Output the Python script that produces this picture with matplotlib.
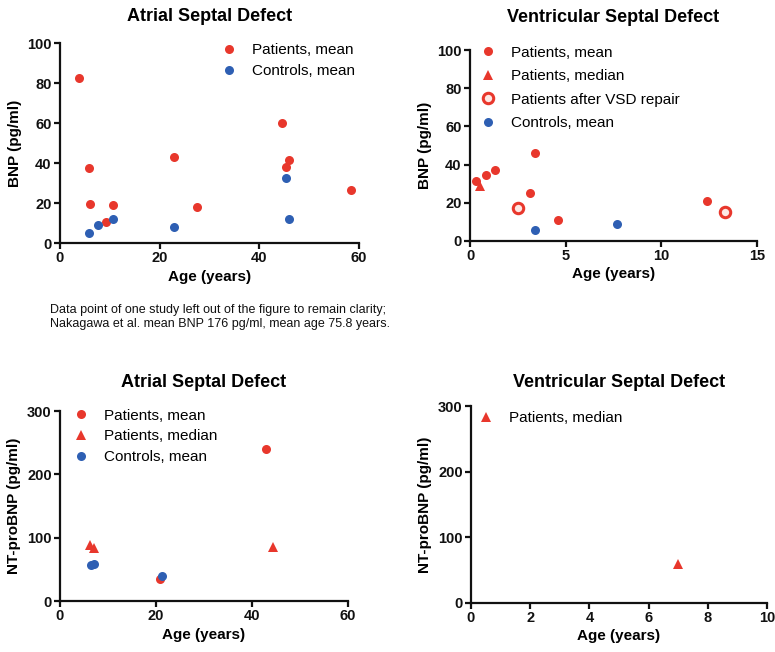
import matplotlib
matplotlib.use("Agg")
import matplotlib.pyplot as plt

plt.rcParams['font.family'] = ['Liberation Sans', 'DejaVu Sans']

RED = '#e8372c'
BLUE = '#2e5fb3'

# ASD, BNP
asd_bnp_pat_age = [3.9, 5.8, 5.95, 9.2, 10.7, 22.9, 27.5, 44.6, 45.4, 46.0, 58.3]
asd_bnp_pat_val = [82.6, 37.3, 19.6, 10.7, 18.9, 42.8, 17.9, 60.2, 37.8, 41.6, 26.4]
asd_bnp_ctl_age = [5.8, 7.7, 10.7, 22.9, 45.4, 46.0]
asd_bnp_ctl_val = [5.2, 8.9, 11.9, 8.2, 32.4, 11.9]

# VSD, BNP
vsd_bnp_pat_age = [0.31, 0.84, 1.32, 3.4, 3.12, 4.6, 12.4]
vsd_bnp_pat_val = [31.3, 34.6, 37.2, 46.2, 25.2, 11.2, 20.8]
vsd_bnp_med_age = [0.52]
vsd_bnp_med_val = [29.0]
vsd_bnp_rep_age = [2.5, 13.35]
vsd_bnp_rep_val = [17.1, 15.0]
vsd_bnp_ctl_age = [3.4, 7.68]
vsd_bnp_ctl_val = [5.6, 9.1]

# ASD, NT-proBNP
asd_nt_pat_age = [42.9, 20.8]
asd_nt_pat_val = [239.6, 34.6]
asd_nt_med_age = [6.3, 7.0, 44.3]
asd_nt_med_val = [89, 84, 86]
asd_nt_ctl_age = [6.4, 7.0, 21.2]
asd_nt_ctl_val = [56.6, 58.7, 39.8]

# VSD, NT-proBNP
vsd_nt_med_age = [7.0]
vsd_nt_med_val = [60]

fig = plt.figure(figsize=(7.75, 6.52), dpi=100)

ax1 = fig.add_axes([0.0774, 0.6273, 0.3858, 0.3067])
ax2 = fig.add_axes([0.6065, 0.6304, 0.3703, 0.2929])
ax3 = fig.add_axes([0.0774, 0.0782, 0.3716, 0.2914])
ax4 = fig.add_axes([0.6077, 0.0752, 0.3820, 0.3021])

MS = 6.5


def style(ax, xmax, xticks, ymax, yticks, ylabel, title, tpad):
    ax.set_xlim(0, xmax)
    ax.set_ylim(0, ymax)
    ax.set_xticks(xticks)
    ax.set_yticks(yticks)
    for s in ('top', 'right'):
        ax.spines[s].set_visible(False)
    for s in ('left', 'bottom'):
        ax.spines[s].set_linewidth(1.6)
        ax.spines[s].set_color('#111111')
    ax.tick_params(direction='out', length=4, width=1.6, labelsize=10.5,
                   colors='#111111', pad=2)
    for lab in ax.get_xticklabels() + ax.get_yticklabels():
        lab.set_fontweight('bold')
    ax.set_xlabel('Age (years)', fontsize=11, fontweight='bold', labelpad=3)
    ax.set_ylabel(ylabel, fontsize=11, fontweight='bold', labelpad=4)
    ax.set_title(title, fontsize=13, fontweight='bold', pad=tpad)


def pts(ax, x, y, marker, color, label, filled=True, ms=MS):
    if filled:
        ax.plot(x, y, linestyle='none', marker=marker, color=color,
                markersize=ms, markeredgewidth=0, label=label, clip_on=False)
    else:
        ax.plot(x, y, linestyle='none', marker=marker, markerfacecolor='#fde8e4',
                markeredgecolor=color, markeredgewidth=2.2, markersize=ms + 1,
                label=label, clip_on=False)


def legend(ax, anchor, spacing=0.45):
    ax.legend(loc='upper left', bbox_to_anchor=anchor, frameon=False,
              fontsize=11, handletextpad=0.9, labelspacing=spacing,
              handlelength=1.2, borderaxespad=0)


# Top left
pts(ax1, asd_bnp_pat_age, asd_bnp_pat_val, 'o', RED, 'Patients, mean')
pts(ax1, asd_bnp_ctl_age, asd_bnp_ctl_val, 'o', BLUE, 'Controls, mean')
style(ax1, 60, [0, 20, 40, 60], 100, [0, 20, 40, 60, 80, 100],
      'BNP (pg/ml)', 'Atrial Septal Defect', 16)
legend(ax1, (0.515, 1.03))

# Top right
pts(ax2, vsd_bnp_pat_age, vsd_bnp_pat_val, 'o', RED, 'Patients, mean')
pts(ax2, vsd_bnp_med_age, vsd_bnp_med_val, '^', RED, 'Patients, median')
pts(ax2, vsd_bnp_rep_age, vsd_bnp_rep_val, 'o', RED, 'Patients after VSD repair',
    filled=False)
pts(ax2, vsd_bnp_ctl_age, vsd_bnp_ctl_val, 'o', BLUE, 'Controls, mean')
style(ax2, 15, [0, 5, 10, 15], 100, [0, 20, 40, 60, 80, 100],
      'BNP (pg/ml)', 'Ventricular Septal Defect', 20)
legend(ax2, (0.01, 1.055), spacing=0.62)

# Bottom left
pts(ax3, asd_nt_pat_age, asd_nt_pat_val, 'o', RED, 'Patients, mean')
pts(ax3, asd_nt_med_age, asd_nt_med_val, '^', RED, 'Patients, median')
pts(ax3, asd_nt_ctl_age, asd_nt_ctl_val, 'o', BLUE, 'Controls, mean')
style(ax3, 60, [0, 20, 40, 60], 300, [0, 100, 200, 300],
      'NT-proBNP (pg/ml)', 'Atrial Septal Defect', 17)
legend(ax3, (0.02, 1.045))

# Bottom right
pts(ax4, vsd_nt_med_age, vsd_nt_med_val, '^', RED, 'Patients, median')
style(ax4, 10, [0, 2, 4, 6, 8, 10], 300, [0, 100, 200, 300],
      'NT-proBNP (pg/ml)', 'Ventricular Septal Defect', 14)
legend(ax4, (0.0, 1.005))

fig.text(50 / 775, 1 - 310 / 652,
         'Data point of one study left out of the figure to remain clarity;',
         fontsize=9, va='center', ha='left', color='#111111')
fig.text(50 / 775, 1 - 324 / 652,
         'Nakagawa et al. mean BNP 176 pg/ml, mean age 75.8 years.',
         fontsize=9, va='center', ha='left', color='#111111')

fig.savefig('out.png', dpi=100)
